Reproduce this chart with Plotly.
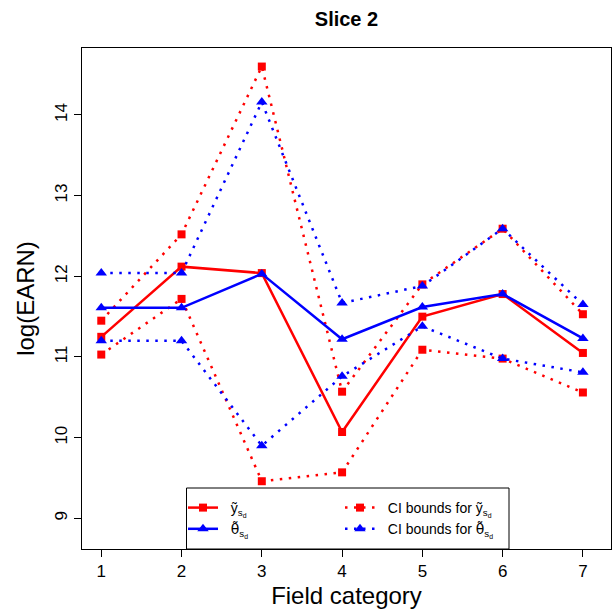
import plotly.graph_objects as go

# ---- data ----
field = [1, 2, 3, 4, 5, 6, 7]
y_tilde = [11.25, 12.12, 12.04, 10.07, 11.50, 11.78, 11.05]
y_ci_upper = [11.45, 12.52, 14.60, 10.57, 11.90, 12.59, 11.53]
y_ci_lower = [11.03, 11.72, 9.46, 9.57, 11.09, 10.98, 10.56]
theta_tilde = [11.61, 11.61, 12.03, 11.22, 11.62, 11.78, 11.23]
theta_ci_upper = [12.04, 12.04, 14.16, 11.67, 11.88, 12.59, 11.65]
theta_ci_lower = [11.20, 11.20, 9.90, 10.76, 11.38, 10.98, 10.81]
x_ticks = [1, 2, 3, 4, 5, 6, 7]
y_ticks = [9, 10, 11, 12, 13, 14]

RED = "#FF0000"
BLUE = "#0000FF"
FONT = "Liberation Sans, Arial, Helvetica, sans-serif"
DOT = "2.5px,6.5px"

lab_y = "ỹ<sub>s<sub>d</sub></sub>"
lab_t = "<span style='font-family:DejaVu Sans'>θ\u0303</span><sub>s<sub>d</sub></sub>"
GAP = "&nbsp;&nbsp;"

fig = go.Figure()

fig.add_trace(go.Scatter(x=field, y=y_tilde, mode="lines+markers",
                         line=dict(color=RED, width=2.5),
                         marker=dict(symbol="square", size=8, color=RED),
                         name=GAP + lab_y, legend="legend"))
fig.add_trace(go.Scatter(x=field, y=y_ci_upper, mode="lines+markers",
                         line=dict(color=RED, width=2.5, dash=DOT),
                         marker=dict(symbol="square", size=8, color=RED),
                         name=GAP + "CI bounds for " + lab_y, legend="legend2"))
fig.add_trace(go.Scatter(x=field, y=y_ci_lower, mode="lines+markers",
                         line=dict(color=RED, width=2.5, dash=DOT),
                         marker=dict(symbol="square", size=8, color=RED),
                         showlegend=False))
fig.add_trace(go.Scatter(x=field, y=theta_tilde, mode="lines+markers",
                         line=dict(color=BLUE, width=2.5),
                         marker=dict(symbol="triangle-up", size=10, color=BLUE),
                         name=GAP + lab_t, legend="legend"))
fig.add_trace(go.Scatter(x=field, y=theta_ci_upper, mode="lines+markers",
                         line=dict(color=BLUE, width=2.5, dash=DOT),
                         marker=dict(symbol="triangle-up", size=10, color=BLUE),
                         name=GAP + "CI bounds for " + lab_t, legend="legend2"))
fig.add_trace(go.Scatter(x=field, y=theta_ci_lower, mode="lines+markers",
                         line=dict(color=BLUE, width=2.5, dash=DOT),
                         marker=dict(symbol="triangle-up", size=10, color=BLUE),
                         showlegend=False))

L, R, T, B = 82, 1, 48, 66
W, H = 612, 615
pw, ph = W - L - R, H - T - B

def px_x(p):
    return (p - L) / pw

def px_y(p):
    return (H - B - p) / ph

fig.add_shape(type="rect", xref="paper", yref="paper",
              x0=px_x(186.5), x1=px_x(509), y0=0, y1=px_y(488),
              line=dict(color="black", width=1), fillcolor="white", layer="above")

fig.update_layout(
    width=W, height=H,
    margin=dict(l=L, r=R, t=T, b=B),
    paper_bgcolor="white", plot_bgcolor="white",
    font=dict(family=FONT, color="black"),
    title=dict(text="<b>Slice 2</b>", x=0.5 * (L + W - R) / W, xanchor="center",
               y=1 - 19 / H, yanchor="middle", font=dict(size=20)),
    legend=dict(x=px_x(183), y=px_y(492), xanchor="left", yanchor="top",
                bgcolor="rgba(0,0,0,0)", borderwidth=0, font=dict(size=14),
                tracegroupgap=0),
    legend2=dict(x=px_x(340), y=px_y(492), xanchor="left", yanchor="top",
                 bgcolor="rgba(0,0,0,0)", borderwidth=0, font=dict(size=14),
                 tracegroupgap=0),
    xaxis=dict(range=[0.76, 7.35], tickvals=x_ticks, ticktext=[str(v) for v in x_ticks],
               showgrid=False, zeroline=False, showline=True, mirror=True,
               linecolor="black", linewidth=1, ticks="outside", ticklen=7,
               tickcolor="black", tickfont=dict(size=17),
               title=dict(text="Field category", font=dict(size=24), standoff=6)),
    yaxis=dict(range=[8.62, 14.83], tickvals=y_ticks, ticktext=[str(v) for v in y_ticks],
               showgrid=False, zeroline=False, showline=True, mirror=True,
               linecolor="black", linewidth=1, ticks="outside", ticklen=7,
               tickcolor="black", tickfont=dict(size=17), tickangle=-90,
               title=dict(text="log(EARN)", font=dict(size=24), standoff=10)),
)

fig.write_html("out.html", config={"displayModeBar": False},
               post_script="document.body.style.margin='0';")
